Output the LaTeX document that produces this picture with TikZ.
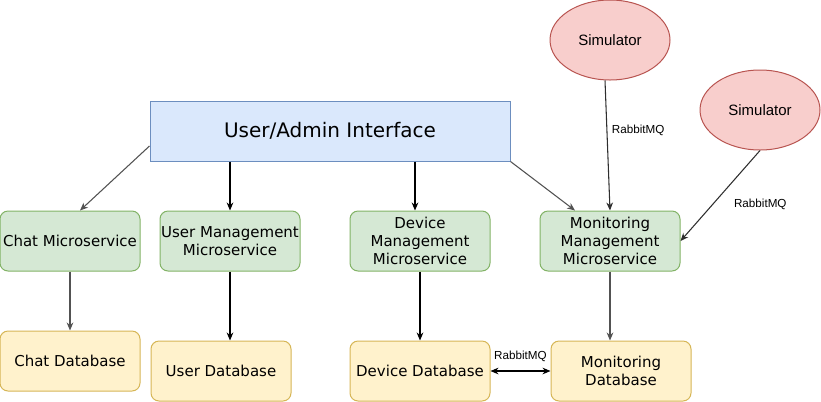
\documentclass[tikz,border=0pt]{standalone}
\usepackage{fontspec}
\setmainfont{DejaVu Sans}
\newfontfamily\arialfont{Liberation Sans}
\usetikzlibrary{shapes.geometric, arrows.meta, calc}

\definecolor{blueFill}{HTML}{DAE8FC}
\definecolor{blueLine}{HTML}{6C8EBF}
\definecolor{greenFill}{HTML}{D5E8D4}
\definecolor{greenLine}{HTML}{82B366}
\definecolor{yellowFill}{HTML}{FFF2CC}
\definecolor{yellowLine}{HTML}{D6B656}
\definecolor{redFill}{HTML}{F8CECC}
\definecolor{redLine}{HTML}{B85450}

\tikzstyle{interface} = [
    rectangle,
    minimum width = 270pt,
    minimum height = 45pt,
    inner sep = 0pt,
    text centered,
    draw = blueLine,
    fill = blueFill,
    line width = 0.75pt,
    font = \fontsize{15}{18}\selectfont,
]
\tikzstyle{service} = [
    rectangle,
    rounded corners = 6pt,
    minimum width = 105pt,
    minimum height = 45pt,
    inner sep = 0pt,
    align = center,
    draw = greenLine,
    fill = greenFill,
    line width = 0.75pt,
    font = \fontsize{11.25}{13.5}\selectfont,
]
\tikzstyle{database} = [
    service,
    draw = yellowLine,
    fill = yellowFill,
]
\tikzstyle{simulator} = [
    ellipse,
    minimum width = 90pt,
    minimum height = 60pt,
    draw = redLine,
    fill = redFill,
    line width = 0.75pt,
    font = \arialfont\fontsize{11.25}{13.5}\selectfont,
]
\tikzstyle{link} = [->, line width = 0.8pt, draw = black]
\tikzstyle{greylink} = [link, draw = black!68]
\tikzstyle{darklink} = [link, draw = black!82]
\tikzstyle{mqlabel} = [font = \arialfont\fontsize{8.75}{10.5}\selectfont, text = black]

\begin{document}
\begin{tikzpicture} [x = 0.75pt, y = -0.75pt, >= {Stealth[length = 6pt, width = 5pt]}]
    \useasboundingbox (0, 0) rectangle (821, 401);

    \node (Interface) [interface] at (330, 131) {User/Admin Interface};

    \node (Simulator1) [simulator] at (610, 40) {Simulator};
    \node (Simulator2) [simulator] at (760, 110) {Simulator};

    \node (ChatService) [service] at (70, 241) {Chat Microservice};
    \node (UserService) [service] at (230, 241) {User Management\\Microservice};
    \node (DeviceService) [service] at (420, 241) {Device\\Management\\Microservice};
    \node (MonitorService) [service] at (610, 241) {Monitoring\\Management\\Microservice};

    \node (ChatDatabase) [database] at (70, 361) {Chat Database};
    \node (UserDatabase) [database] at (221, 371) {User Database};
    \node (DeviceDatabase) [database] at (420, 371) {Device Database};
    \node (MonitorDatabase) [database] at (621, 371) {Monitoring\\Database};

    % interface to the services
    \draw[greylink] ($(Interface.west) + (0, 15)$) -- ($(ChatService.north) + (10, 0)$);
    \draw[link] (Interface.south -| UserService.north) -- (UserService.north);
    \draw[link] ($(Interface.south -| DeviceService.north) + (-5, 0)$) -- ($(DeviceService.north) + (-5, 0)$);
    \draw[greylink] (Interface.south east) -- ($(MonitorService.north) + (-35, 0)$);

    % simulators
    \draw[darklink] ($(Simulator1.south) + (-5, 0)$) -- node[mqlabel, right, pos = 0.38] {RabbitMQ} (MonitorService.north);
    \draw[darklink] (Simulator2.south) -- node[mqlabel, pos = 0.6, xshift = 36pt] {RabbitMQ} (MonitorService.east);

    % services to databases
    \draw[greylink] (ChatService.south) -- (ChatDatabase.north);
    \draw[link] (UserService.south) -- (UserService.south |- UserDatabase.north);
    \draw[link] (DeviceService.south) -- (DeviceDatabase.north);
    \draw[greylink] (MonitorService.south) -- (MonitorService.south |- MonitorDatabase.north);
    \draw[link, <->] (DeviceDatabase.east) -- node[mqlabel, above, yshift = 3pt] {RabbitMQ} (MonitorDatabase.west);
\end{tikzpicture}
\end{document}
